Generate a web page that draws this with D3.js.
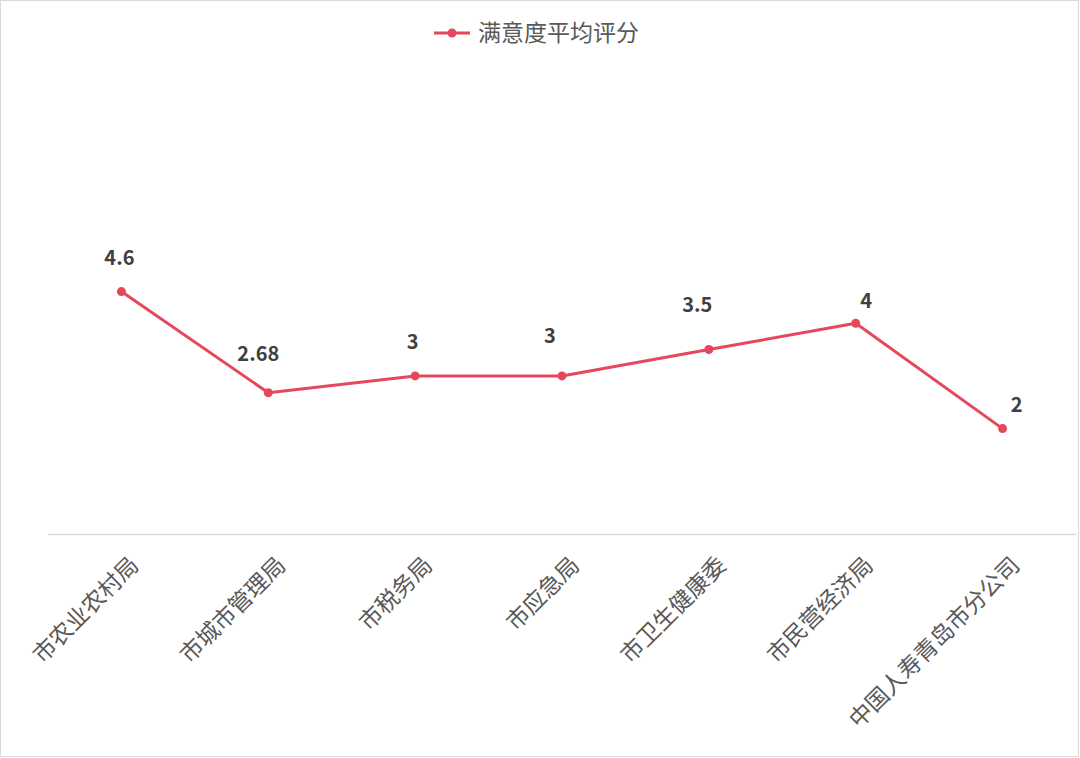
<!DOCTYPE html>
<html><head><meta charset="utf-8">
<script src="https://cdn.jsdelivr.net/npm/d3@7"></script>
<style>html,body{margin:0;padding:0;background:#fff;}svg{display:block;}</style>
</head><body>
<svg id="chart" width="1080" height="758"></svg>
<script>
const categories = ["市农业农村局","市城市管理局","市税务局","市应急局","市卫生健康委","市民营经济局","中国人寿青岛市分公司"];
const values = [4.6, 2.68, 3, 3, 3.5, 4, 2];
const valueLabels = ["4.6","2.68","3","3","3.5","4","2"];
const seriesName = "满意度平均评分";

// data-label nudges (layout only): [dx, dy of baseline relative to point]
const labelNudge = [[-2,-27],[-10,-31.5],[-2.5,-27],[-12,-32.5],[-11.5,-38],[10.5,-15],[14,-16.5]];

const svg = d3.select("#chart");
const W = 1080, H = 758;
const color = "#e5485c";
const font = "'Noto Sans CJK SC', 'Noto Sans', sans-serif";

svg.append("rect").attr("x",0.5).attr("y",0.5).attr("width",W-2).attr("height",H-2)
  .attr("fill","#fff").attr("stroke","#d9d9d9").attr("stroke-width",1);

const x = d3.scaleBand().domain(categories).range([48, 1076]);
const y = d3.scaleLinear().domain([0, 9]).range([534, 59.7]);

// baseline axis
const xAxis = d3.axisBottom(x).tickSize(0).tickFormat("");
const gx = svg.append("g").attr("transform","translate(0,534)").call(xAxis);
gx.select(".domain").attr("stroke","#d9d9d9").attr("stroke-width",1.3);

// category labels
svg.append("g").selectAll("text").data(categories).join("text")
  .attr("transform", d => `translate(${x(d)+x.bandwidth()/2+13},${561}) rotate(-45)`)
  .attr("text-anchor","end")
  .attr("dy","0.35em")
  .attr("font-family",font).attr("font-size",23).attr("fill","#595959")
  .text(d => d);

const cx = d => x(d) + x.bandwidth()/2;
const line = d3.line().x((d,i)=>cx(categories[i])).y(d=>y(d));
svg.append("path").datum(values).attr("d",line)
  .attr("fill","none").attr("stroke",color).attr("stroke-width",3).attr("stroke-linejoin","round");

svg.append("g").selectAll("circle").data(values).join("circle")
  .attr("cx",(d,i)=>cx(categories[i])).attr("cy",d=>y(d)).attr("r",4.5).attr("fill",color);

svg.append("g").selectAll("text").data(values).join("text")
  .attr("x",(d,i)=>cx(categories[i])+labelNudge[i][0]).attr("y",(d,i)=>y(d)+labelNudge[i][1])
  .attr("text-anchor","middle")
  .attr("font-family",font).attr("font-size",20).attr("font-weight","bold").attr("fill","#404040")
  .text((d,i)=>valueLabels[i]);

// legend
const lg = svg.append("g");
lg.append("line").attr("x1",434).attr("x2",470).attr("y1",33).attr("y2",33)
  .attr("stroke",color).attr("stroke-width",3);
lg.append("circle").attr("cx",452).attr("cy",33).attr("r",4.5).attr("fill",color);
lg.append("text").attr("x",478).attr("y",33).attr("dy","0.35em")
  .attr("font-family",font).attr("font-size",23).attr("fill","#595959").text(seriesName);
</script>
</body></html>
